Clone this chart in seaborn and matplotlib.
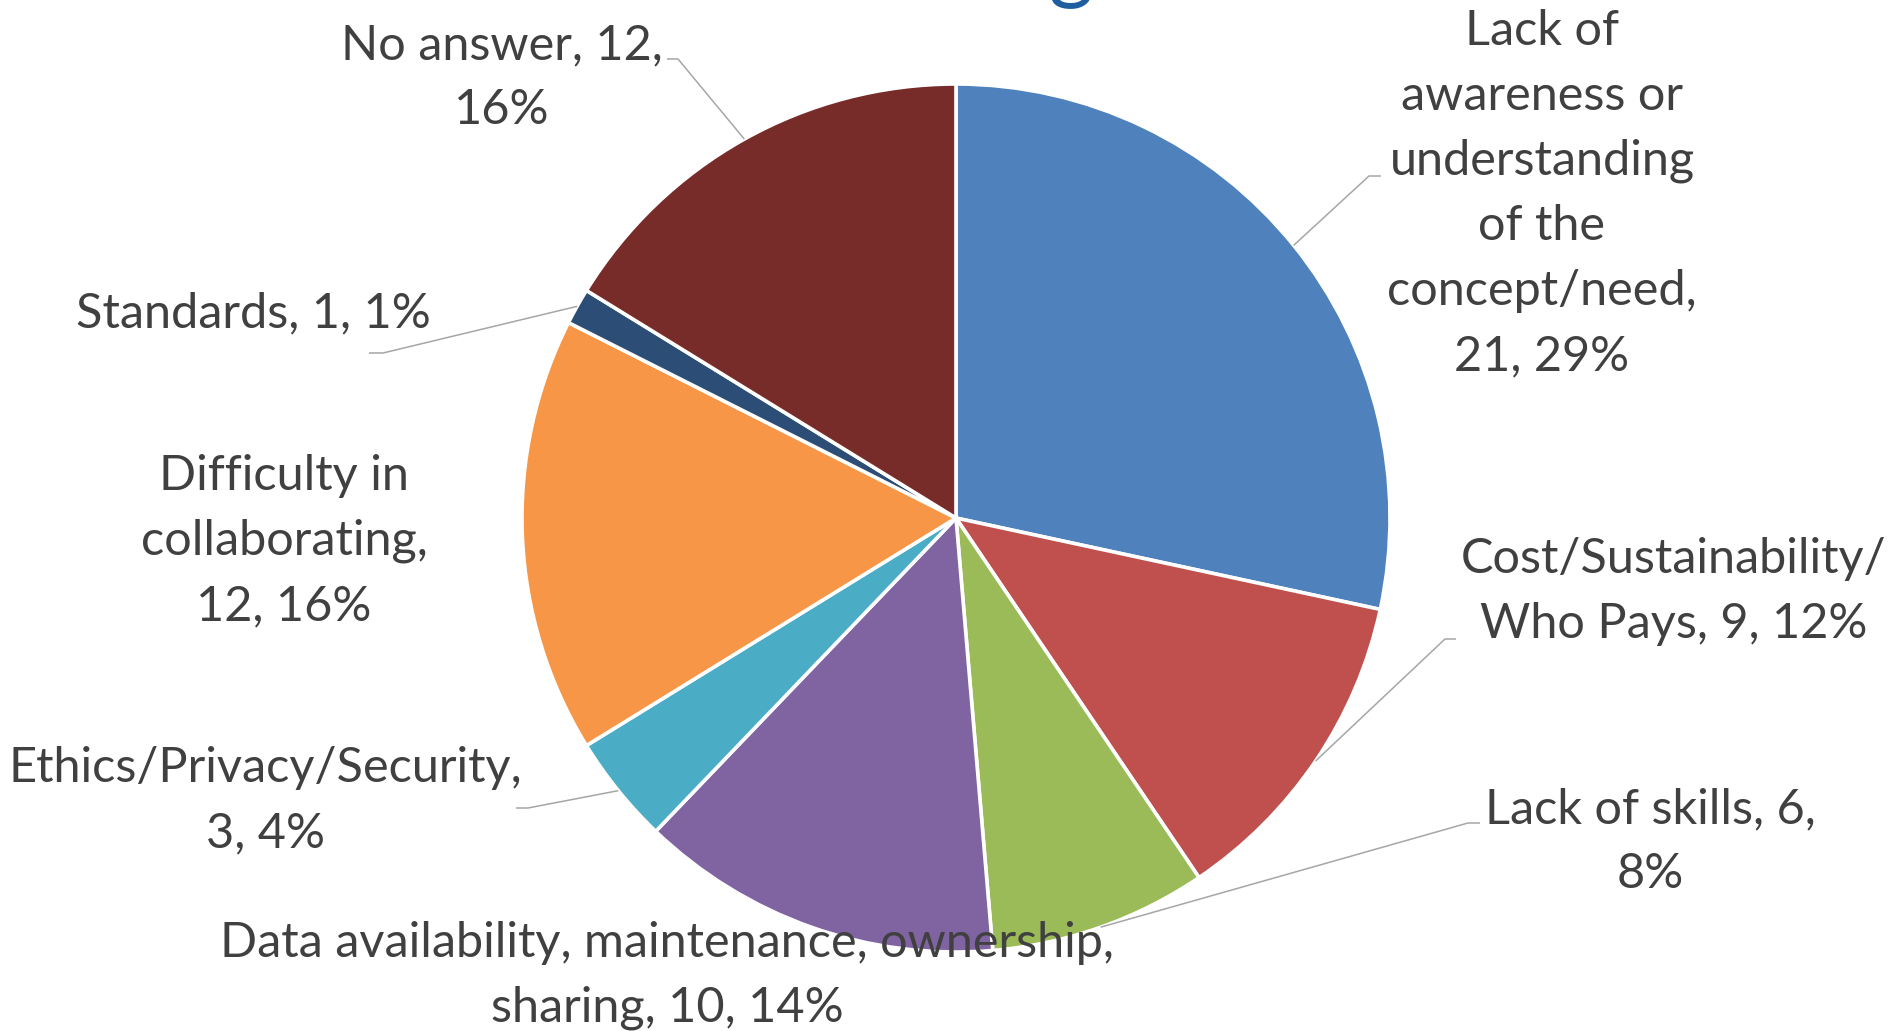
import matplotlib
matplotlib.use("Agg")
import matplotlib.pyplot as plt
import seaborn as sns
import numpy as np

# ---- data ----
categories = [
    "Lack of awareness or understanding of the concept/need",
    "Cost/Sustainability/Who Pays",
    "Lack of skills",
    "Data availability, maintenance, ownership, sharing",
    "Ethics/Privacy/Security",
    "Difficulty in collaborating",
    "Standards",
    "No answer",
]
counts = [21, 9, 6, 10, 3, 12, 1, 12]
percents = [29, 12, 8, 14, 4, 16, 1, 16]
label_texts = [
    "Lack of\nawareness or\nunderstanding\nof the\nconcept/need,\n21, 29%",
    "Cost/Sustainability/\nWho Pays, 9, 12%",
    "Lack of skills, 6,\n8%",
    "Data availability, maintenance, ownership,\nsharing, 10, 14%",
    "Ethics/Privacy/Security,\n3, 4%",
    "Difficulty in\ncollaborating,\n12, 16%",
    "Standards, 1, 1%",
    "No answer, 12,\n16%",
]
colors = ["#4F81BD", "#C0504D", "#9BBB59", "#8064A2", "#4BACC6",
          "#F79646", "#2C4D75", "#772C2A"]

W, H = 1889, 1031
sns.set_theme(style="white")
plt.rcParams["font.family"] = ["Lato", "DejaVu Sans"]

fig = plt.figure(figsize=(W / 100, H / 100), dpi=100)
ax = fig.add_axes([0, 0, 1, 1])

cx, cy, R = 956, H - 518, 434
wedges, _ = ax.pie(counts, colors=sns.color_palette(colors), startangle=90,
                   counterclock=False, center=(cx, cy), radius=R,
                   wedgeprops=dict(edgecolor="white", linewidth=2.6))
ax.set_xlim(0, W)
ax.set_ylim(0, H)
ax.set_aspect("equal")
ax.axis("off")

# label layout (pixel coords from top): x center, last-line baseline
label_pos = [(1542, 370), (1674, 638), (1650, 888), (667, 1022),
             (265, 847), (284, 620), (253, 327), (502, 124)]
# leader elbows: (elbow, end) in pixel coords, None = no leader
leaders = [((1369, 176), (1381, 176)), ((1445, 639), (1456, 639)),
           ((1468, 823), (1480, 823)), None,
           ((528, 808), (516, 808)), None,
           ((383, 353), (369, 353)), ((678, 59), (667, 59))]

FS = 35
for i, (txt, (x, yb)) in enumerate(zip(label_texts, label_pos)):
    ax.text(x, H - yb, txt, ha="center", va="baseline", multialignment="center",
            fontsize=FS, color="#404040", linespacing=1.58, zorder=5)
    ld = leaders[i]
    if ld is not None:
        w = wedges[i]
        th = np.deg2rad((w.theta1 + w.theta2) / 2)
        ex, ey = cx + R * np.cos(th), cy + R * np.sin(th)
        (x1, y1), (x2, y2) = ld
        ax.plot([ex, x1, x2], [ey, H - y1, H - y2], color="#A6A6A6",
                lw=1.1, zorder=4, solid_capstyle="butt")

# cropped chart title (only the descender of its last letter is in view)
ax.text(1071, H + 8, "g", ha="center", va="baseline", fontsize=62,
        color="#1F5F9F")

fig.savefig("out.png", dpi=100)
